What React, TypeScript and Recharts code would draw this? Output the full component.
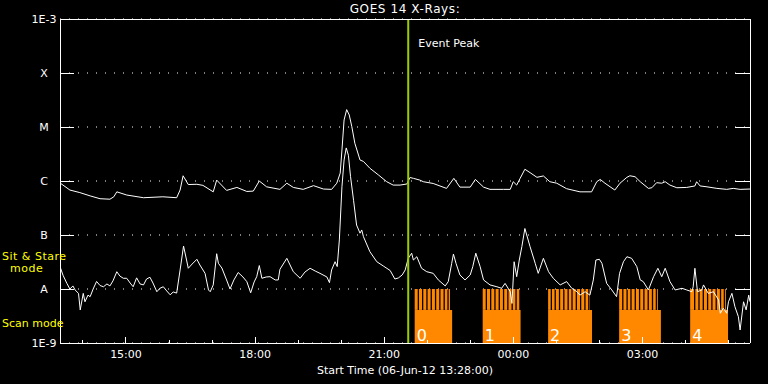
import {
  LineChart,
  Line,
  XAxis,
  YAxis,
  CartesianGrid,
  ReferenceArea,
  ReferenceLine,
} from 'recharts'

// ── Palette ───────────────────────────────────────────────────────────────────

const WHITE = '#ffffff'
const ORANGE = '#ff8800'
const PEAK = '#9acd00'
const YELLOW = '#ffff00'
const FONT = '"DejaVu Sans", sans-serif'

// ── Data (hours since 06-Jun-12 13:28 UT, flux in W/m²) ──────────────────────

// 1-8 Å channel
const longTimes = [
  0, 0.23, 0.46, 0.7, 0.93, 1.16, 1.25, 1.32, 1.55, 1.94,
  2.39, 2.71, 2.79, 2.86, 2.98, 3.18, 3.32, 3.56, 3.64, 3.87,
  4.11, 4.34, 4.49, 4.63, 4.8, 5.11, 5.27, 5.42, 5.65, 5.89,
  6.12, 6.31, 6.43, 6.51, 6.55, 6.6, 6.66, 6.72, 6.78, 6.85,
  6.97, 7.05, 7.2, 7.4, 7.59, 7.74, 7.9, 8.06, 8.13, 8.21,
  8.36, 8.44, 8.67, 8.98, 9.15, 9.29, 9.53, 9.65, 9.84, 9.99,
  10.3, 10.46, 10.53, 10.61, 10.69, 10.8, 10.92, 11.08, 11.23, 11.38,
  11.54, 11.77, 12.08, 12.35, 12.47, 12.55, 12.66, 12.89, 13.01, 13.17,
  13.24, 13.36, 13.48, 13.67, 13.75, 13.86, 13.98, 14.06, 14.17, 14.33,
  14.56, 14.75, 14.79, 14.87, 15.03, 15.26, 15.49, 15.64, 15.8, 16.03,
]
const longFlux = [
  9.2e-7, 6.8e-7, 6.1e-7, 5.3e-7, 4.7e-7, 4.6e-7, 5.1e-7, 6.3e-7, 5.5e-7, 4.9e-7,
  5.1e-7, 4.9e-7, 6.8e-7, 1.25e-6, 8.6e-7, 8.7e-7, 8.3e-7, 6.3e-7, 1.04e-6, 6.7e-7,
  7.6e-7, 6.4e-7, 6.5e-7, 1.0e-6, 7.8e-7, 7.0e-7, 9.1e-7, 7.6e-7, 7.0e-7, 8.2e-7,
  7.1e-7, 7.0e-7, 9.1e-7, 1.4e-6, 3.75e-6, 1.35e-5, 2.1e-5, 1.67e-5, 1.01e-5, 5.0e-6,
  2.45e-6, 2.3e-6, 1.72e-6, 1.29e-6, 9.7e-7, 8.4e-7, 8.4e-7, 8.8e-7, 1.16e-6, 1.12e-6,
  1.04e-6, 9.7e-7, 9.0e-7, 7.3e-7, 1.12e-6, 7.7e-7, 7.7e-7, 1.07e-6, 7.7e-7, 7.0e-7,
  7.0e-7, 7.0e-7, 9.7e-7, 8.4e-7, 1.12e-6, 1.65e-6, 1.43e-6, 1.17e-6, 1.24e-6, 9.7e-7,
  9.1e-7, 7.2e-7, 6.3e-7, 6.3e-7, 9.7e-7, 1.07e-6, 9.1e-7, 6.8e-7, 9.1e-7, 1.17e-6,
  1.25e-6, 1.2e-6, 9.7e-7, 7.3e-7, 7.5e-7, 9.3e-7, 9.1e-7, 9.7e-7, 8.4e-7, 7.5e-7,
  7.6e-7, 8.1e-7, 9.7e-7, 8.1e-7, 7.8e-7, 7.3e-7, 7.0e-7, 7.3e-7, 7.0e-7, 7.1e-7,
]

// 0.5-4 Å channel
const shortTimes = [
  0, 0.07, 0.16, 0.23, 0.3, 0.35, 0.43, 0.47, 0.54, 0.58,
  0.65, 0.7, 0.77, 0.85, 0.93, 1.01, 1.09, 1.16, 1.23, 1.32,
  1.39, 1.47, 1.55, 1.63, 1.7, 1.78, 1.86, 1.94, 2.01, 2.09,
  2.16, 2.25, 2.32, 2.4, 2.48, 2.56, 2.63, 2.71, 2.79, 2.87,
  2.94, 2.98, 3.07, 3.18, 3.25, 3.37, 3.45, 3.49, 3.56, 3.64,
  3.68, 3.76, 3.87, 3.95, 4.04, 4.14, 4.25, 4.34, 4.43, 4.51,
  4.57, 4.63, 4.69, 4.79, 4.88, 5.0, 5.07, 5.11, 5.27, 5.42,
  5.58, 5.69, 5.81, 5.93, 6.04, 6.2, 6.26, 6.31, 6.39, 6.44,
  6.49, 6.55, 6.6, 6.65, 6.7, 6.75, 6.82, 6.89, 6.97, 7.01,
  7.05, 7.2, 7.36, 7.51, 7.67, 7.78, 7.86, 7.95, 8.02, 8.09,
  8.17, 8.21, 8.29, 8.4, 8.52, 8.67, 8.79, 8.95, 9.02, 9.1,
  9.14, 9.2, 9.29, 9.41, 9.53, 9.59, 9.66, 9.76, 9.84, 9.99,
  10.15, 10.26, 10.34, 10.46, 10.5, 10.55, 10.61, 10.67, 10.73, 10.8,
  10.92, 11.04, 11.11, 11.23, 11.35, 11.46, 11.62, 11.77, 11.89, 12.01,
  12.08, 12.2, 12.31, 12.39, 12.45, 12.53, 12.59, 12.7, 12.82, 12.93,
  13.0, 13.09, 13.17, 13.28, 13.4, 13.48, 13.55, 13.67, 13.79, 13.89,
  13.98, 14.06, 14.17, 14.29, 14.45, 14.56, 14.68, 14.71, 14.75, 14.81,
  14.91, 14.95, 15.06, 15.18, 15.3, 15.34, 15.41, 15.49, 15.53, 15.61,
  15.68, 15.76, 15.8, 15.88, 15.94, 16.0, 16.03,
]
const shortFlux = [
  2.6e-8, 1.8e-8, 1.27e-8, 1.0e-8, 1.14e-8, 9.6e-9, 8.3e-9, 4.1e-9, 8.3e-9, 5.8e-9,
  7.7e-9, 7.2e-9, 1.0e-8, 1.38e-8, 1.16e-8, 1.1e-8, 1.24e-8, 1.14e-8, 1.41e-8, 2.09e-8,
  1.74e-8, 1.58e-8, 1.58e-8, 1.29e-8, 1.1e-8, 1.61e-8, 1.24e-8, 1.19e-8, 1.53e-8, 1.65e-8,
  1.29e-8, 8.9e-9, 1.03e-8, 1.1e-8, 9.2e-9, 7.8e-9, 8.8e-9, 8.4e-9, 2.25e-8, 6.25e-8,
  3.44e-8, 2.42e-8, 2.9e-8, 3.55e-8, 2.78e-8, 1.95e-8, 9.6e-9, 8.9e-9, 1.19e-8, 4.5e-8,
  2.99e-8, 2.45e-8, 1.47e-8, 1.0e-8, 1.47e-8, 2.02e-8, 1.67e-8, 1.37e-8, 8.5e-9, 1.35e-8,
  1.69e-8, 2.72e-8, 1.58e-8, 1.67e-8, 1.69e-8, 1.47e-8, 1.47e-8, 2.32e-8, 3.7e-8, 2.09e-8,
  1.58e-8, 2.06e-8, 2.42e-8, 2.15e-8, 1.95e-8, 1.67e-8, 1.31e-8, 2.25e-8, 3.2e-8, 2.6e-8,
  8.1e-8, 7.8e-7, 2.45e-6, 4.1e-6, 3.0e-6, 1.2e-6, 4.4e-7, 1.53e-7, 1.08e-7, 1.24e-7,
  9.3e-8, 4.9e-8, 3.2e-8, 2.67e-8, 2.2e-8, 1.53e-8, 1.6e-8, 1.82e-8, 2.25e-8, 3.7e-8,
  4.6e-8, 3.44e-8, 3.96e-8, 2.42e-8, 2.09e-8, 1.95e-8, 1.47e-8, 1.14e-8, 1.37e-8, 2.99e-8,
  4.44e-8, 2.99e-8, 1.82e-8, 1.47e-8, 1.82e-8, 2.6e-8, 4.6e-8, 2.6e-8, 1.47e-8, 1.19e-8,
  1.1e-8, 1.03e-8, 1.27e-8, 8.9e-9, 5.4e-9, 3.2e-8, 1.69e-8, 3.44e-8, 6.1e-8, 1.32e-7,
  6.1e-8, 2.99e-8, 1.95e-8, 3.7e-8, 2.09e-8, 1.58e-8, 1.19e-8, 1.37e-8, 1.03e-8, 8.9e-9,
  7.7e-9, 8.9e-9, 7.7e-9, 1.47e-8, 3.44e-8, 3.55e-8, 2.99e-8, 1.27e-8, 9.6e-9, 7.2e-9,
  1.95e-8, 3.2e-8, 3.96e-8, 3.7e-8, 2.6e-8, 1.47e-8, 1.37e-8, 9.6e-9, 1.69e-8, 2.42e-8,
  1.69e-8, 2.42e-8, 1.37e-8, 9.6e-9, 1.03e-8, 9.6e-9, 8.9e-9, 1.1e-8, 2.42e-8, 8.9e-9,
  9.6e-9, 1.19e-8, 8.3e-9, 8.9e-9, 6.25e-9, 3.55e-9, 4.4e-9, 3.55e-9, 5.8e-9, 8.3e-9,
  4.7e-9, 3.07e-9, 1.74e-9, 5.8e-9, 4.1e-9, 7.7e-9, 5.8e-9,
]

// axis ticks
const tickHours = [
  0.533, 1.533, 2.533, 3.533, 4.533, 5.533, 6.533, 7.533,
  8.533, 9.533, 10.533, 11.533, 12.533, 13.533, 14.533, 15.533,
]
const tickLabels = [
  '', '15:00', '', '', '18:00', '', '', '21:00',
  '', '', '00:00', '', '', '03:00', '', '',
]
const levelTicks = [1e-9, 1e-8, 1e-7, 1e-6, 1e-5, 1e-4, 1e-3]
const levelLabels = ['1E-9', 'A', 'B', 'C', 'M', 'X', '1E-3']

// scan / sit & stare blocks
const scanLabels = ['0', '1', '2', '3', '4']
const scanStart = [8.24, 9.82, 11.34, 12.99, 14.64]
const stareEnd = [9.06, 10.67, 12.31, 13.89, 15.47]
const scanEnd = [9.11, 10.7, 12.36, 13.96, 15.52]
const stareGaps = [
  [8.31, 8.41, 8.51, 8.61, 8.71, 8.81, 8.91, 9.0],
  [9.89, 9.99, 10.09, 10.19, 10.29, 10.39, 10.49, 10.58],
  [11.4, 11.49, 11.59, 11.69, 11.79, 11.88, 11.98, 12.08, 12.18, 12.27],
  [13.06, 13.16, 13.25, 13.35, 13.45, 13.55, 13.65, 13.75, 13.84],
  [14.73, 14.83, 14.93, 15.03, 15.13, 15.23, 15.33, 15.42],
]
const SCAN_TOP = 4.1e-9
const STARE_TOP = 1e-8
const GAP = 0.03

const EVENT_PEAK = 8.09
const X_DOMAIN = [0, 16.03]

const longData = longTimes.map((t, i) => ({ t, f: longFlux[i] }))
const shortData = shortTimes.map((t, i) => ({ t, f: shortFlux[i] }))

// ── Ticks (IDL style: pointing inwards) ──────────────────────────────────────

function BottomTick(props: any) {
  const { x, y, payload } = props
  const label = tickLabels[tickHours.indexOf(payload.value)]
  const len = label ? 6 : 3
  return (
    <g>
      <line x1={x} x2={x} y1={y} y2={y - len} stroke={WHITE} shapeRendering="crispEdges" />
      {label && (
        <text x={x} y={y + 15} textAnchor="middle" fill={WHITE} fontSize={11} fontFamily={FONT}>
          {label}
        </text>
      )}
    </g>
  )
}

function TopTick(props: any) {
  const { x, y, payload } = props
  const label = tickLabels[tickHours.indexOf(payload.value)]
  const len = label ? 6 : 3
  return <line x1={x} x2={x} y1={y} y2={y + len} stroke={WHITE} shapeRendering="crispEdges" />
}

function LeftTick(props: any) {
  const { x, y, payload } = props
  const label = levelLabels[levelTicks.indexOf(payload.value)]
  return (
    <g>
      <line x1={x} x2={x + 14} y1={y} y2={y} stroke={WHITE} shapeRendering="crispEdges" />
      <text x={x - 16} y={y + 4} textAnchor="middle" fill={WHITE} fontSize={11} fontFamily={FONT}>
        {label}
      </text>
    </g>
  )
}

function RightTick(props: any) {
  const { x, y } = props
  return <line x1={x} x2={x - 15} y1={y} y2={y} stroke={WHITE} shapeRendering="crispEdges" />
}

function EventLabel(props: any) {
  const { viewBox } = props
  return (
    <text x={viewBox.x + 10} y={viewBox.y + 28} fill={WHITE} fontSize={11} fontFamily={FONT}>
      Event Peak
    </text>
  )
}

// ── Chart ─────────────────────────────────────────────────────────────────────

export default function App() {
  const axisLine = { stroke: WHITE, shapeRendering: 'crispEdges' }
  return (
    <div
      style={{
        position: 'absolute',
        left: 0,
        top: 0,
        width: 768,
        height: 384,
        background: '#000',
        fontFamily: FONT,
        color: WHITE,
        overflow: 'hidden',
      }}
    >
      <LineChart width={768} height={384} margin={{ top: 0, right: 0, bottom: 0, left: 0 }}>
        <CartesianGrid vertical={false} stroke={WHITE} strokeDasharray="1 8" />
        <XAxis
          dataKey="t"
          type="number"
          domain={X_DOMAIN}
          ticks={tickHours}
          interval={0}
          height={41}
          tickSize={0}
          tickMargin={0}
          tickLine={false}
          axisLine={axisLine}
          tick={BottomTick}
          allowDataOverflow
        />
        <XAxis
          xAxisId="top"
          orientation="top"
          type="number"
          domain={X_DOMAIN}
          ticks={tickHours}
          interval={0}
          height={19}
          tickSize={0}
          tickMargin={0}
          tickLine={false}
          axisLine={axisLine}
          tick={TopTick}
          allowDataOverflow
        />
        <YAxis
          type="number"
          scale="log"
          domain={[1e-9, 1e-3]}
          ticks={levelTicks}
          interval={0}
          width={60}
          tickSize={0}
          tickMargin={0}
          tickLine={false}
          axisLine={axisLine}
          tick={LeftTick}
          allowDataOverflow
        />
        <YAxis
          yAxisId="right"
          orientation="right"
          type="number"
          scale="log"
          domain={[1e-9, 1e-3]}
          ticks={levelTicks}
          interval={0}
          width={18}
          tickSize={0}
          tickMargin={0}
          tickLine={false}
          axisLine={axisLine}
          tick={RightTick}
          allowDataOverflow
        />

        {scanStart.map((s, i) => (
          <ReferenceArea
            key={`scan-${i}`}
            x1={s}
            x2={scanEnd[i]}
            y1={1e-9}
            y2={SCAN_TOP}
            fill={ORANGE}
            fillOpacity={1}
            stroke="none"
            label={{ value: scanLabels[i], position: 'insideBottomLeft', offset: 2, fill: WHITE, fontSize: 16, fontFamily: FONT }}
          />
        ))}
        {scanStart.map((s, i) => {
          const starts = [s, ...stareGaps[i].map((g) => g + GAP)]
          const ends = [...stareGaps[i], stareEnd[i]]
          return starts.map((a, j) => (
            <ReferenceArea
              key={`stare-${i}-${j}`}
              x1={a}
              x2={ends[j]}
              y1={SCAN_TOP}
              y2={STARE_TOP}
              fill={ORANGE}
              fillOpacity={1}
              stroke="none"
            />
          ))
        })}

        <Line
          data={longData}
          dataKey="f"
          type="linear"
          stroke={WHITE}
          strokeWidth={1}
          dot={false}
          isAnimationActive={false}
        />
        <Line
          data={shortData}
          dataKey="f"
          type="linear"
          stroke={WHITE}
          strokeWidth={1}
          dot={false}
          isAnimationActive={false}
        />

        <ReferenceLine x={EVENT_PEAK} stroke={PEAK} strokeWidth={2} label={EventLabel} />
      </LineChart>

      <div style={{ position: 'absolute', left: 0, width: 810, top: 1, textAlign: 'center', fontSize: 12, lineHeight: '16px', letterSpacing: 0.6 }}>
        GOES 14 X-Rays:
      </div>
      <div style={{ position: 'absolute', left: 0, width: 810, top: 363, textAlign: 'center', fontSize: 11, lineHeight: '16px' }}>
        Start Time (06-Jun-12 13:28:00)
      </div>
      <div style={{ position: 'absolute', left: 2, top: 251, color: YELLOW, fontSize: 11, lineHeight: '12px', whiteSpace: 'pre', letterSpacing: 0.5 }}>
        {'Sit & Stare\n  mode'}
      </div>
      <div style={{ position: 'absolute', left: 2, top: 316, color: YELLOW, fontSize: 11, lineHeight: '16px' }}>
        Scan mode
      </div>
    </div>
  )
}
